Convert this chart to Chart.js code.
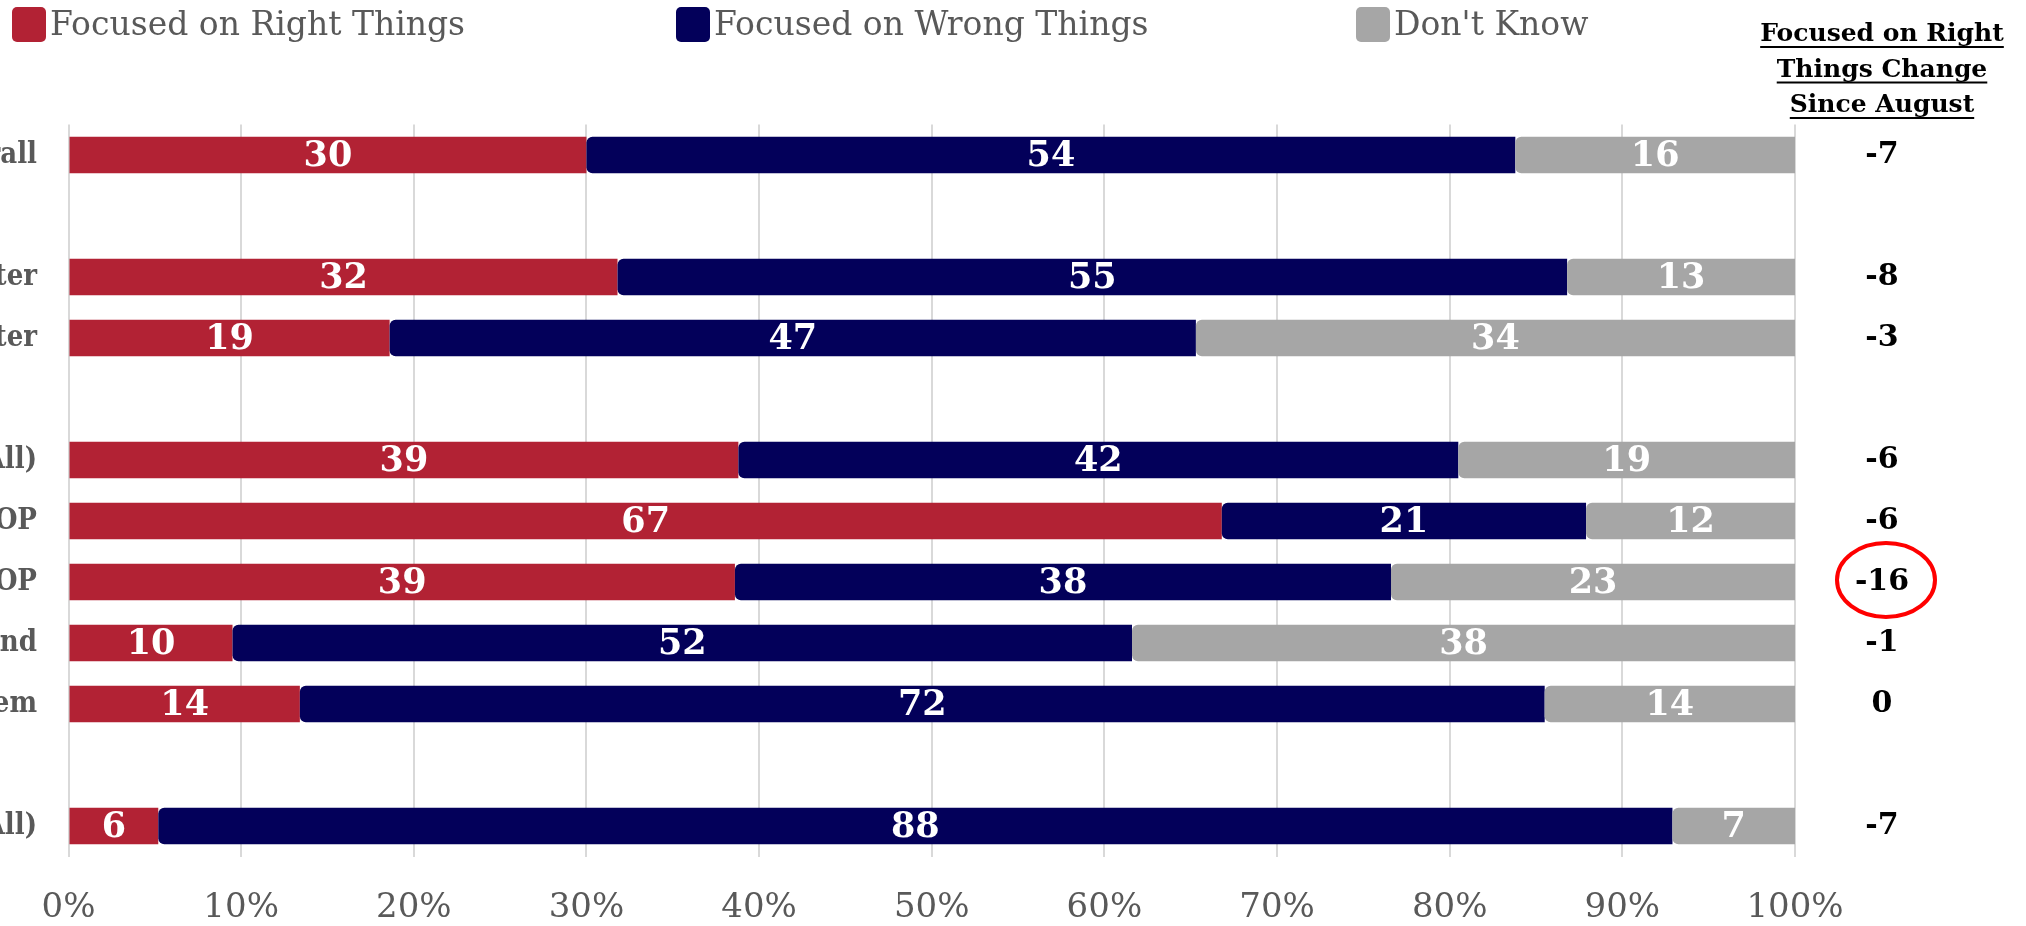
<!DOCTYPE html>
<html>
<head>
<meta charset="utf-8">
<script src="https://cdn.jsdelivr.net/npm/chart.js@4"></script>
<style>
  html, body { margin: 0; padding: 0; background: #ffffff; }
  #wrap { width: 2026px; height: 926px; position: relative; }
</style>
</head>
<body>
<div id="wrap"><canvas id="c" width="2026" height="926"></canvas></div>
<script>
// ---- DATA ----
const categories = ["Overall", "", "2024 Voter", "2024 Non-Voter", "", "Trump 2024 Voters (All)", "MAGA GOP", "Non-MAGA GOP", "Trump Voter Ind", "Trump Voter Dem", "", "Harris 2024 Voters (All)"];
const seriesNames = ["Focused on Right Things", "Focused on Wrong Things", "Don't Know"];
const rightThings = [30.0, null, 31.8, 18.6, null, 38.8, 66.8, 38.6, 9.5, 13.4, null, 5.2];
const wrongThings = [53.8, null, 55.0, 46.7, null, 41.7, 21.1, 38.0, 52.1, 72.1, null, 87.7];
const dontKnow    = [16.2, null, 13.2, 34.7, null, 19.5, 12.1, 23.4, 38.4, 14.5, null, 7.1];
const rightLabels = [30, null, 32, 19, null, 39, 67, 39, 10, 14, null, 6];
const wrongLabels = [54, null, 55, 47, null, 42, 21, 38, 52, 72, null, 88];
const dkLabels    = [16, null, 13, 34, null, 19, 12, 23, 38, 14, null, 7];
const changeSinceAugust = [-7, null, -8, -3, null, -6, -6, -16, -1, 0, null, -7];
const highlightedRow = 7;
const changeHeader = ["Focused on Right", "Things Change", "Since August"];
const xTicks = [0, 10, 20, 30, 40, 50, 60, 70, 80, 90, 100];

const colors = ["#b22234", "#03005a", "#a6a6a6"];
const SERIF = "'DejaVu Serif', 'Liberation Serif', serif";
const SERIF_COND = "'DejaVu Serif Condensed', 'DejaVu Serif', serif";
const GREY_TEXT = "#595959";

// Build [start, end] ranges for each segment (stacked left to right)
const seriesValues = [rightThings, wrongThings, dontKnow];
const ranges = seriesValues.map(() => []);
categories.forEach((c, i) => {
  let acc = 0;
  seriesValues.forEach((arr, s) => {
    const v = arr[i];
    if (v === null) { ranges[s].push(null); return; }
    ranges[s].push([acc, acc + v]);
    acc += v;
  });
});

const overlay = {
  id: 'overlay',
  afterDatasetsDraw(chart) {
    const ctx = chart.ctx;
    const labelSets = [rightLabels, wrongLabels, dkLabels];
    ctx.save();
    ctx.fillStyle = '#ffffff';
    ctx.font = "bold 35px " + SERIF;
    ctx.textAlign = 'center';
    ctx.textBaseline = 'middle';
    chart.data.datasets.forEach((ds, di) => {
      const meta = chart.getDatasetMeta(di);
      meta.data.forEach((el, i) => {
        const lab = labelSets[di][i];
        if (lab === null || lab === undefined) return;
        const p = el.getProps(['x', 'base', 'y'], true);
        ctx.fillText(String(lab), (p.x + p.base) / 2, p.y + 2);
      });
    });
    ctx.restore();
  },
  afterDraw(chart) {
    const ctx = chart.ctx;
    ctx.save();
    // legend
    const legendX = [12, 676, 1356];
    chart.data.datasets.forEach((ds, i) => {
      const x = legendX[i];
      ctx.fillStyle = ds.backgroundColor;
      ctx.beginPath();
      ctx.roundRect(x, 7, 34, 35, 5);
      ctx.fill();
      ctx.fillStyle = GREY_TEXT;
      ctx.font = "33px " + SERIF;
      ctx.textAlign = 'left';
      ctx.textBaseline = 'alphabetic';
      ctx.fillText(ds.label, x + 38, 35);
    });
    // right-hand header
    const cx = 1882;
    ctx.fillStyle = '#000000';
    ctx.strokeStyle = '#000000';
    ctx.lineWidth = 2;
    ctx.font = "bold 25px " + SERIF;
    ctx.textAlign = 'center';
    ctx.textBaseline = 'alphabetic';
    changeHeader.forEach((line, k) => {
      const by = 41 + k * 35.5;
      ctx.fillText(line, cx, by);
      const w = ctx.measureText(line).width;
      ctx.beginPath();
      ctx.moveTo(cx - w / 2, by + 6);
      ctx.lineTo(cx + w / 2, by + 6);
      ctx.stroke();
    });
    // change values
    const yScale = chart.scales.y;
    ctx.font = "bold 30px " + SERIF;
    ctx.textBaseline = 'middle';
    changeSinceAugust.forEach((v, i) => {
      if (v === null) return;
      const y = yScale.getPixelForValue(i);
      ctx.fillStyle = '#000000';
      ctx.fillText(String(v), cx, y);
      if (i === highlightedRow) {
        ctx.strokeStyle = '#ff0000';
        ctx.lineWidth = 4;
        ctx.beginPath();
        ctx.ellipse(cx + 4, y - 2, 49, 37, 0, 0, Math.PI * 2);
        ctx.stroke();
      }
    });
    ctx.restore();
  }
};

const roundLeft = { topLeft: 6, bottomLeft: 6, topRight: 0, bottomRight: 0 };

new Chart(document.getElementById('c'), {
  type: 'bar',
  data: {
    labels: categories,
    datasets: [
      { label: seriesNames[0], data: ranges[0], backgroundColor: colors[0], order: 2,
        borderSkipped: false, borderRadius: 0 },
      { label: seriesNames[1], data: ranges[1], backgroundColor: colors[1], order: 1,
        borderSkipped: false, borderRadius: roundLeft },
      { label: seriesNames[2], data: ranges[2], backgroundColor: colors[2], order: 0,
        borderSkipped: false, borderRadius: roundLeft }
    ]
  },
  options: {
    indexAxis: 'y',
    responsive: false,
    animation: false,
    devicePixelRatio: 1,
    layout: { padding: { top: 124.5, right: 231, left: 0, bottom: 0 } },
    datasets: { bar: { barPercentage: 0.6, categoryPercentage: 1.0, grouped: false } },
    plugins: { legend: { display: false }, tooltip: { enabled: false } },
    scales: {
      x: {
        min: 0, max: 100,
        afterBuildTicks: (s) => { s.ticks = xTicks.map(v => ({ value: v })); },
        afterFit: (s) => { s.height = 69.5; },
        grid: { color: '#d9d9d9', lineWidth: 2, drawTicks: false },
        border: { display: false },
        ticks: {
          padding: 31,
          color: GREY_TEXT,
          font: { family: SERIF, size: 34 },
          callback: (v) => v + '%'
        }
      },
      y: {
        afterFit: (s) => { s.width = 68.5; },
        grid: { display: false, drawTicks: false },
        border: { display: false },
        ticks: {
          padding: 31.5,
          autoSkip: false,
          color: GREY_TEXT,
          font: { family: SERIF_COND, size: 29, weight: 'bold' }
        }
      }
    }
  },
  plugins: [overlay]
});
</script>
</body>
</html>
